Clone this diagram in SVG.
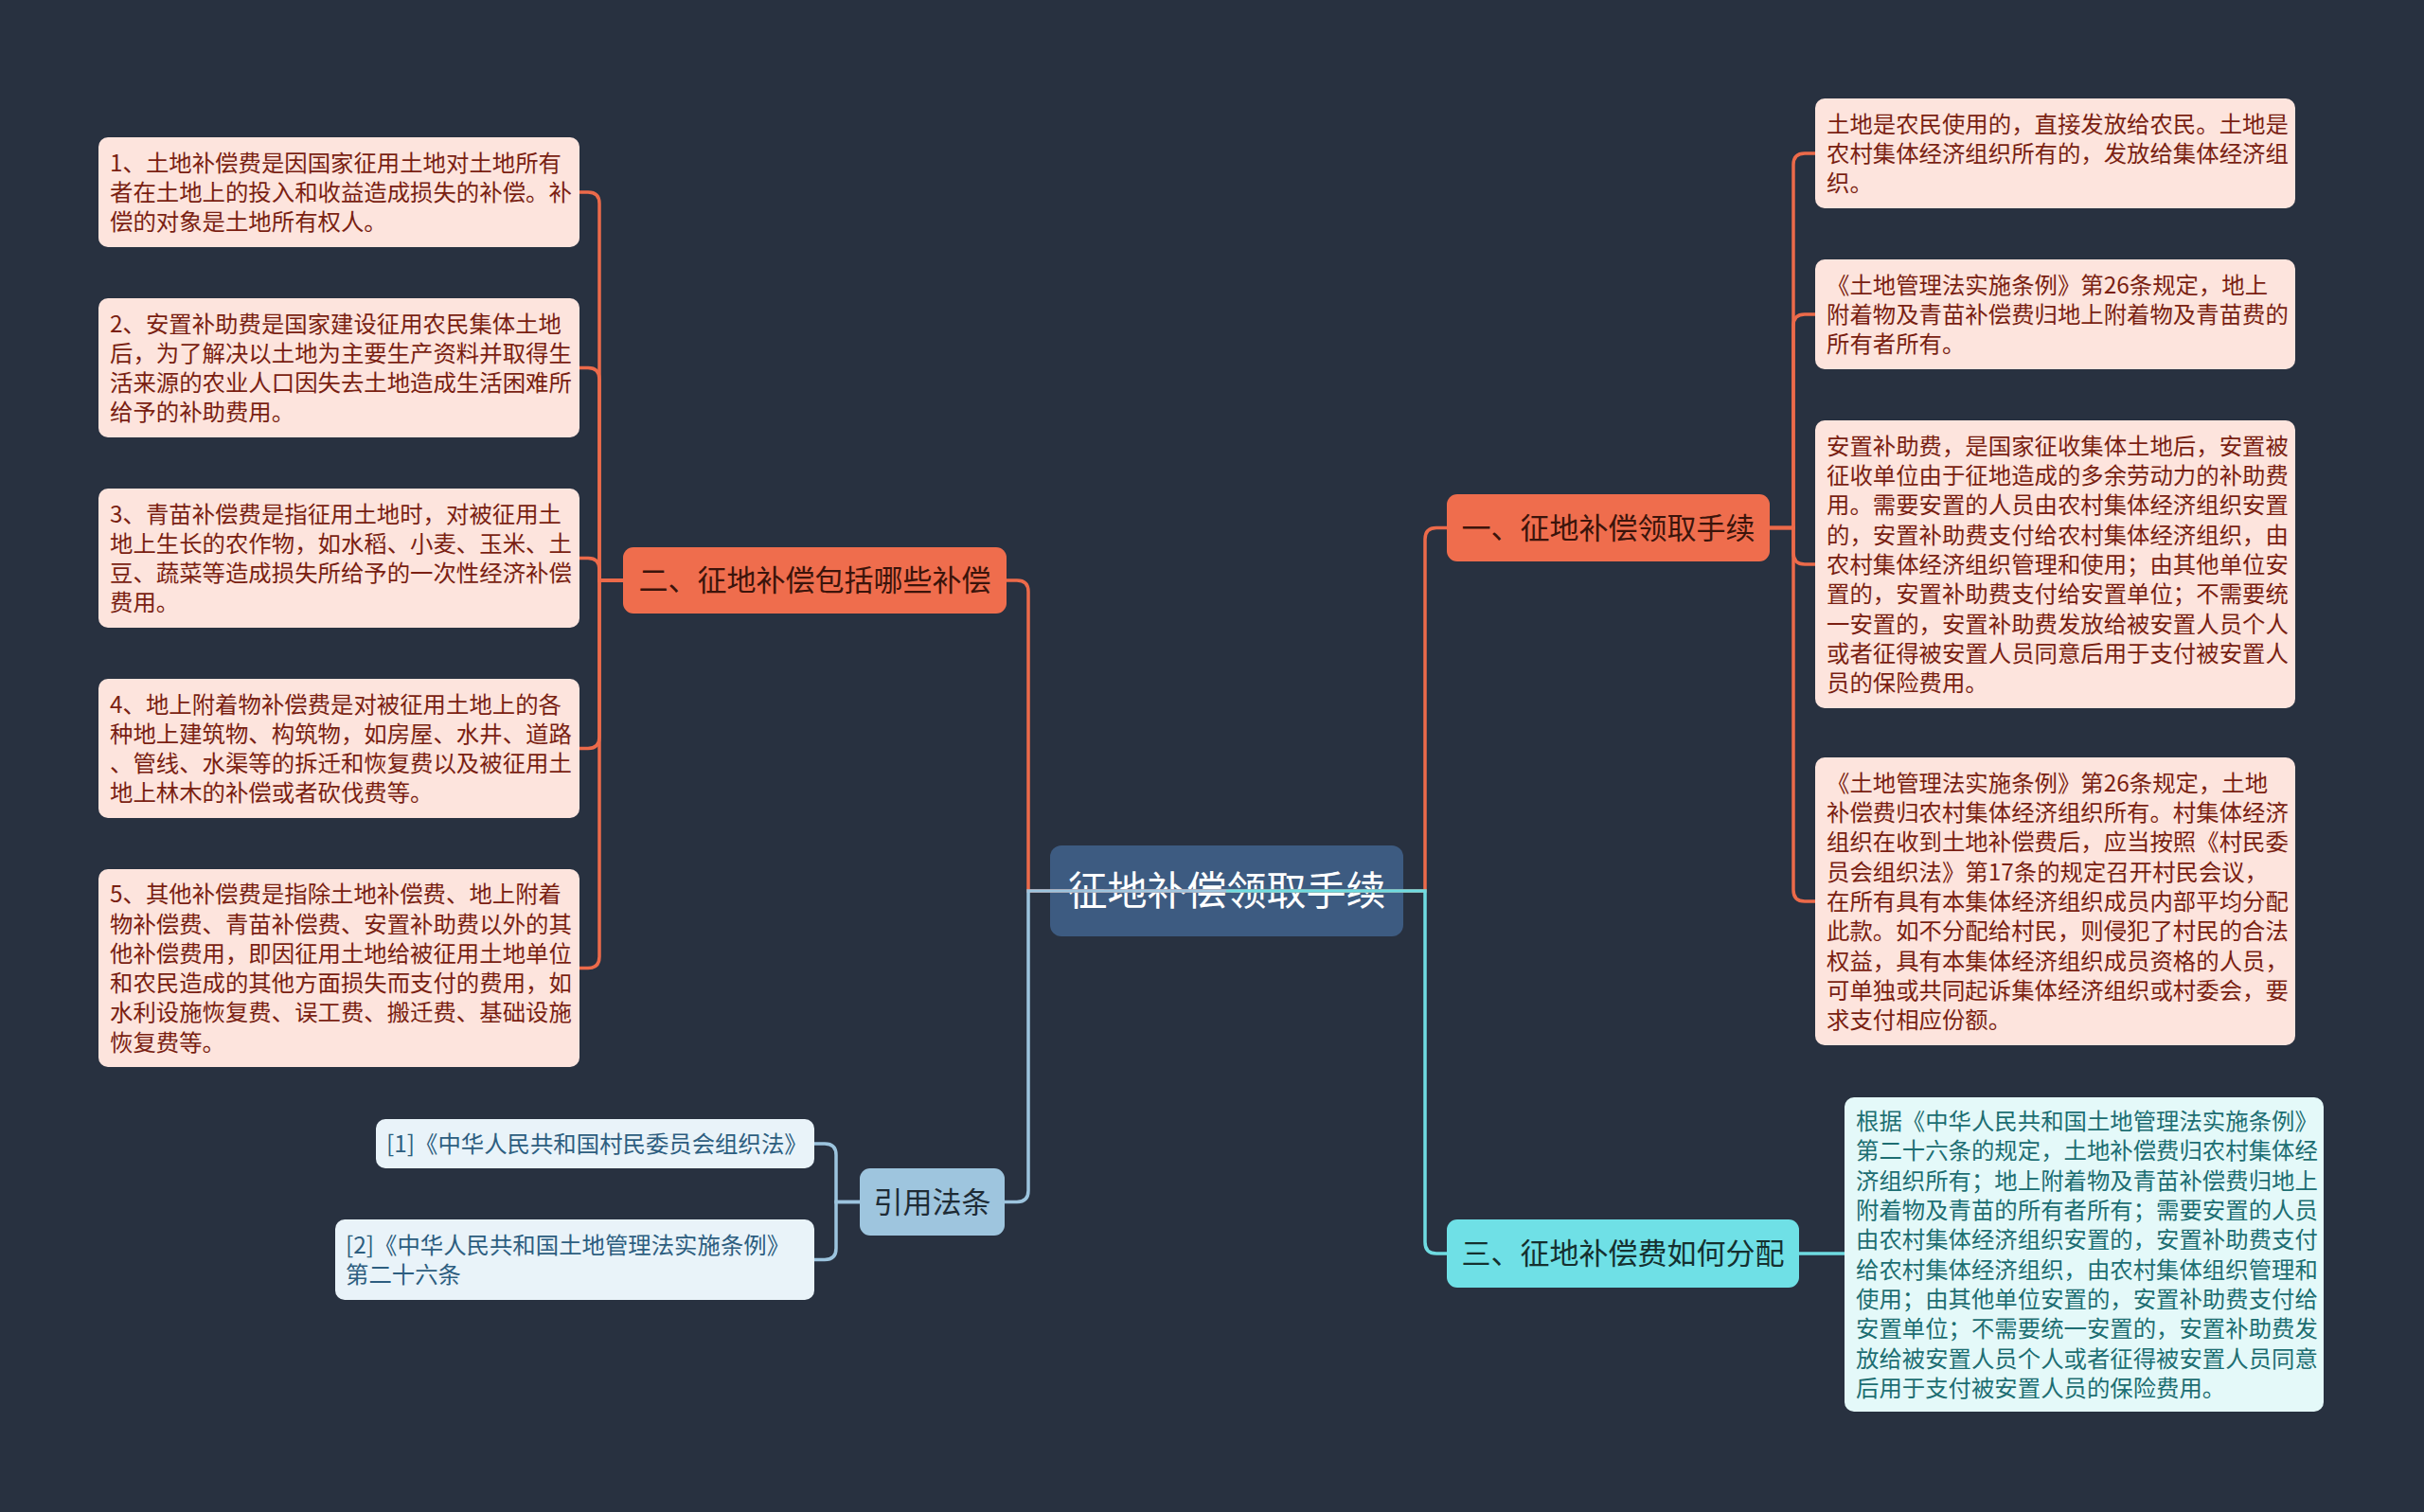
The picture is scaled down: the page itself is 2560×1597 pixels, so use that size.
<svg xmlns="http://www.w3.org/2000/svg" width="2560" height="1597" viewBox="0 0 2560 1597">
<style>
text{font-family:"Noto Sans CJK SC","Noto Sans",sans-serif;}
.leaf{fill:#fde4dd;}
.leaft{font-size:24.4px;fill:#7a1f12;}
.br{fill:#ef6d4d;}
.brt{font-size:31px;fill:#3b140b;text-anchor:middle;}
.cy{fill:#6fe0e6;}
.cyt{font-size:31px;fill:#15302f;text-anchor:middle;}
.cyl{fill:#e4f9f9;}
.cylt{font-size:24.4px;fill:#1d6e72;}
.ref{fill:#9ec5de;}
.reft{font-size:31px;fill:#1e2c36;text-anchor:middle;}
.refl{fill:#e9f3f9;}
.reflt{font-size:24.4px;fill:#2d5e80;}
.c{fill:none;stroke-width:3.5;}
.co{stroke:#ec6a4a;}
.cb{stroke:#9cc4de;}
.cc{stroke:#6fdbe1;}
</style>
<rect width="2560" height="1597" fill="#283140"/>
<g id="center">
<rect x="1109" y="893" width="373" height="96" rx="12" fill="#3d5b81"/>
<text x="1295.5" y="956" style="font-size:42px;fill:#ffffff;text-anchor:middle">征地补偿领取手续</text>
</g>
<g id="connectors">
<path class="c co" d="M1063,613 H1074 Q1086,613 1086,625 V941 H1295"/>
<path class="c cb" d="M1061,1269.5 H1074 Q1086,1269.5 1086,1257.5 V941 H1295"/>
<path class="c co" d="M1528,557.5 H1517 Q1505,557.5 1505,569.5 V941 H1295"/>
<path class="c cc" d="M1528,1324 H1517 Q1505,1324 1505,1312 V941 H1295"/>
<path class="c co" d="M658,613 H633 V215 Q633,203 621,203 H612"/>
<path class="c co" d="M658,613 H633 V400.5 Q633,388.5 621,388.5 H612"/>
<path class="c co" d="M658,613 H633 V601.5 Q633,589.5 621,589.5 H612"/>
<path class="c co" d="M658,613 H633 V778.5 Q633,790.5 621,790.5 H612"/>
<path class="c co" d="M658,613 H633 V1010.5 Q633,1022.5 621,1022.5 H612"/>
<path class="c co" d="M1869,557.5 H1894 V174 Q1894,162 1906,162 H1917"/>
<path class="c co" d="M1869,557.5 H1894 V344 Q1894,332 1906,332 H1917"/>
<path class="c co" d="M1869,557.5 H1894 V584 Q1894,596 1906,596 H1917"/>
<path class="c co" d="M1869,557.5 H1894 V940 Q1894,952 1906,952 H1917"/>
<path class="c cc" d="M1900,1324 H1948"/>
<path class="c cb" d="M908,1269.5 H883 V1220 Q883,1208 871,1208 H860"/>
<path class="c cb" d="M908,1269.5 H883 V1318.5 Q883,1330.5 871,1330.5 H860"/>
</g>
<g id="b2">
<rect class="br" x="658" y="578" width="405" height="70" rx="11"/>
<text class="brt" x="860.5" y="624">二、征地补偿包括哪些补偿</text>
</g>
<g id="b1">
<rect class="br" x="1528" y="522" width="341" height="71" rx="11"/>
<text class="brt" x="1698.5" y="568.5">一、征地补偿领取手续</text>
</g>
<g id="b3">
<rect class="cy" x="1528" y="1288" width="372" height="72" rx="11"/>
<text class="cyt" x="1714" y="1335">三、征地补偿费如何分配</text>
</g>
<g id="bref">
<rect class="ref" x="908" y="1234" width="153" height="71" rx="11"/>
<text class="reft" x="984.5" y="1280.5">引用法条</text>
</g>
<g id="l1">
<rect class="leaf" x="104" y="145" width="508" height="116" rx="10"/>
<text class="leaft" y="180.7"><tspan x="116">1、土地补偿费是因国家征用土地对土地所有</tspan><tspan x="116" dy="31.3">者在土地上的投入和收益造成损失的补偿。补</tspan><tspan x="116" dy="31.3">偿的对象是土地所有权人。</tspan></text>
</g>
<g id="l2">
<rect class="leaf" x="104" y="315" width="508" height="147" rx="10"/>
<text class="leaft" y="350.55"><tspan x="116">2、安置补助费是国家建设征用农民集体土地</tspan><tspan x="116" dy="31.3">后，为了解决以土地为主要生产资料并取得生</tspan><tspan x="116" dy="31.3">活来源的农业人口因失去土地造成生活困难所</tspan><tspan x="116" dy="31.3">给予的补助费用。</tspan></text>
</g>
<g id="l3">
<rect class="leaf" x="104" y="516" width="508" height="147" rx="10"/>
<text class="leaft" y="551.55"><tspan x="116">3、青苗补偿费是指征用土地时，对被征用土</tspan><tspan x="116" dy="31.3">地上生长的农作物，如水稻、小麦、玉米、土</tspan><tspan x="116" dy="31.3">豆、蔬菜等造成损失所给予的一次性经济补偿</tspan><tspan x="116" dy="31.3">费用。</tspan></text>
</g>
<g id="l4">
<rect class="leaf" x="104" y="717" width="508" height="147" rx="10"/>
<text class="leaft" y="752.55"><tspan x="116">4、地上附着物补偿费是对被征用土地上的各</tspan><tspan x="116" dy="31.3">种地上建筑物、构筑物，如房屋、水井、道路</tspan><tspan x="116" dy="31.3">、管线、水渠等的拆迁和恢复费以及被征用土</tspan><tspan x="116" dy="31.3">地上林木的补偿或者砍伐费等。</tspan></text>
</g>
<g id="l5">
<rect class="leaf" x="104" y="918" width="508" height="209" rx="10"/>
<text class="leaft" y="953.25"><tspan x="116">5、其他补偿费是指除土地补偿费、地上附着</tspan><tspan x="116" dy="31.3">物补偿费、青苗补偿费、安置补助费以外的其</tspan><tspan x="116" dy="31.3">他补偿费用，即因征用土地给被征用土地单位</tspan><tspan x="116" dy="31.3">和农民造成的其他方面损失而支付的费用，如</tspan><tspan x="116" dy="31.3">水利设施恢复费、误工费、搬迁费、基础设施</tspan><tspan x="116" dy="31.3">恢复费等。</tspan></text>
</g>
<g id="r1">
<rect class="leaf" x="1917" y="104" width="507" height="116" rx="10"/>
<text class="leaft" y="139.7"><tspan x="1929">土地是农民使用的，直接发放给农民。土地是</tspan><tspan x="1929" dy="31.3">农村集体经济组织所有的，发放给集体经济组</tspan><tspan x="1929" dy="31.3">织。</tspan></text>
</g>
<g id="r2">
<rect class="leaf" x="1917" y="274" width="507" height="116" rx="10"/>
<text class="leaft" y="309.7"><tspan x="1929">《土地管理法实施条例》第26条规定，地上</tspan><tspan x="1929" dy="31.3">附着物及青苗补偿费归地上附着物及青苗费的</tspan><tspan x="1929" dy="31.3">所有者所有。</tspan></text>
</g>
<g id="r3">
<rect class="leaf" x="1917" y="444" width="507" height="304" rx="10"/>
<text class="leaft" y="479.8"><tspan x="1929">安置补助费，是国家征收集体土地后，安置被</tspan><tspan x="1929" dy="31.3">征收单位由于征地造成的多余劳动力的补助费</tspan><tspan x="1929" dy="31.3">用。需要安置的人员由农村集体经济组织安置</tspan><tspan x="1929" dy="31.3">的，安置补助费支付给农村集体经济组织，由</tspan><tspan x="1929" dy="31.3">农村集体经济组织管理和使用；由其他单位安</tspan><tspan x="1929" dy="31.3">置的，安置补助费支付给安置单位；不需要统</tspan><tspan x="1929" dy="31.3">一安置的，安置补助费发放给被安置人员个人</tspan><tspan x="1929" dy="31.3">或者征得被安置人员同意后用于支付被安置人</tspan><tspan x="1929" dy="31.3">员的保险费用。</tspan></text>
</g>
<g id="r4">
<rect class="leaf" x="1917" y="800" width="507" height="304" rx="10"/>
<text class="leaft" y="835.8"><tspan x="1929">《土地管理法实施条例》第26条规定，土地</tspan><tspan x="1929" dy="31.3">补偿费归农村集体经济组织所有。村集体经济</tspan><tspan x="1929" dy="31.3">组织在收到土地补偿费后，应当按照《村民委</tspan><tspan x="1929" dy="31.3">员会组织法》第17条的规定召开村民会议，</tspan><tspan x="1929" dy="31.3">在所有具有本集体经济组织成员内部平均分配</tspan><tspan x="1929" dy="31.3">此款。如不分配给村民，则侵犯了村民的合法</tspan><tspan x="1929" dy="31.3">权益，具有本集体经济组织成员资格的人员，</tspan><tspan x="1929" dy="31.3">可单独或共同起诉集体经济组织或村委会，要</tspan><tspan x="1929" dy="31.3">求支付相应份额。</tspan></text>
</g>
<g id="r5">
<rect class="cyl" x="1948" y="1159" width="506" height="332" rx="10"/>
<text class="cylt" y="1193.15"><tspan x="1960">根据《中华人民共和国土地管理法实施条例》</tspan><tspan x="1960" dy="31.3">第二十六条的规定，土地补偿费归农村集体经</tspan><tspan x="1960" dy="31.3">济组织所有；地上附着物及青苗补偿费归地上</tspan><tspan x="1960" dy="31.3">附着物及青苗的所有者所有；需要安置的人员</tspan><tspan x="1960" dy="31.3">由农村集体经济组织安置的，安置补助费支付</tspan><tspan x="1960" dy="31.3">给农村集体经济组织，由农村集体组织管理和</tspan><tspan x="1960" dy="31.3">使用；由其他单位安置的，安置补助费支付给</tspan><tspan x="1960" dy="31.3">安置单位；不需要统一安置的，安置补助费发</tspan><tspan x="1960" dy="31.3">放给被安置人员个人或者征得被安置人员同意</tspan><tspan x="1960" dy="31.3">后用于支付被安置人员的保险费用。</tspan></text>
</g>
<g id="ref1">
<rect class="refl" x="397" y="1182" width="463" height="52" rx="10"/>
<text class="reflt" x="408" y="1217">[1]《中华人民共和国村民委员会组织法》</text>
</g>
<g id="ref2">
<rect class="refl" x="354" y="1288" width="506" height="85" rx="10"/>
<text class="reflt" y="1323.85"><tspan x="365">[2]《中华人民共和国土地管理法实施条例》</tspan><tspan x="365" dy="31.3">第二十六条</tspan></text>
</g>
</svg>
